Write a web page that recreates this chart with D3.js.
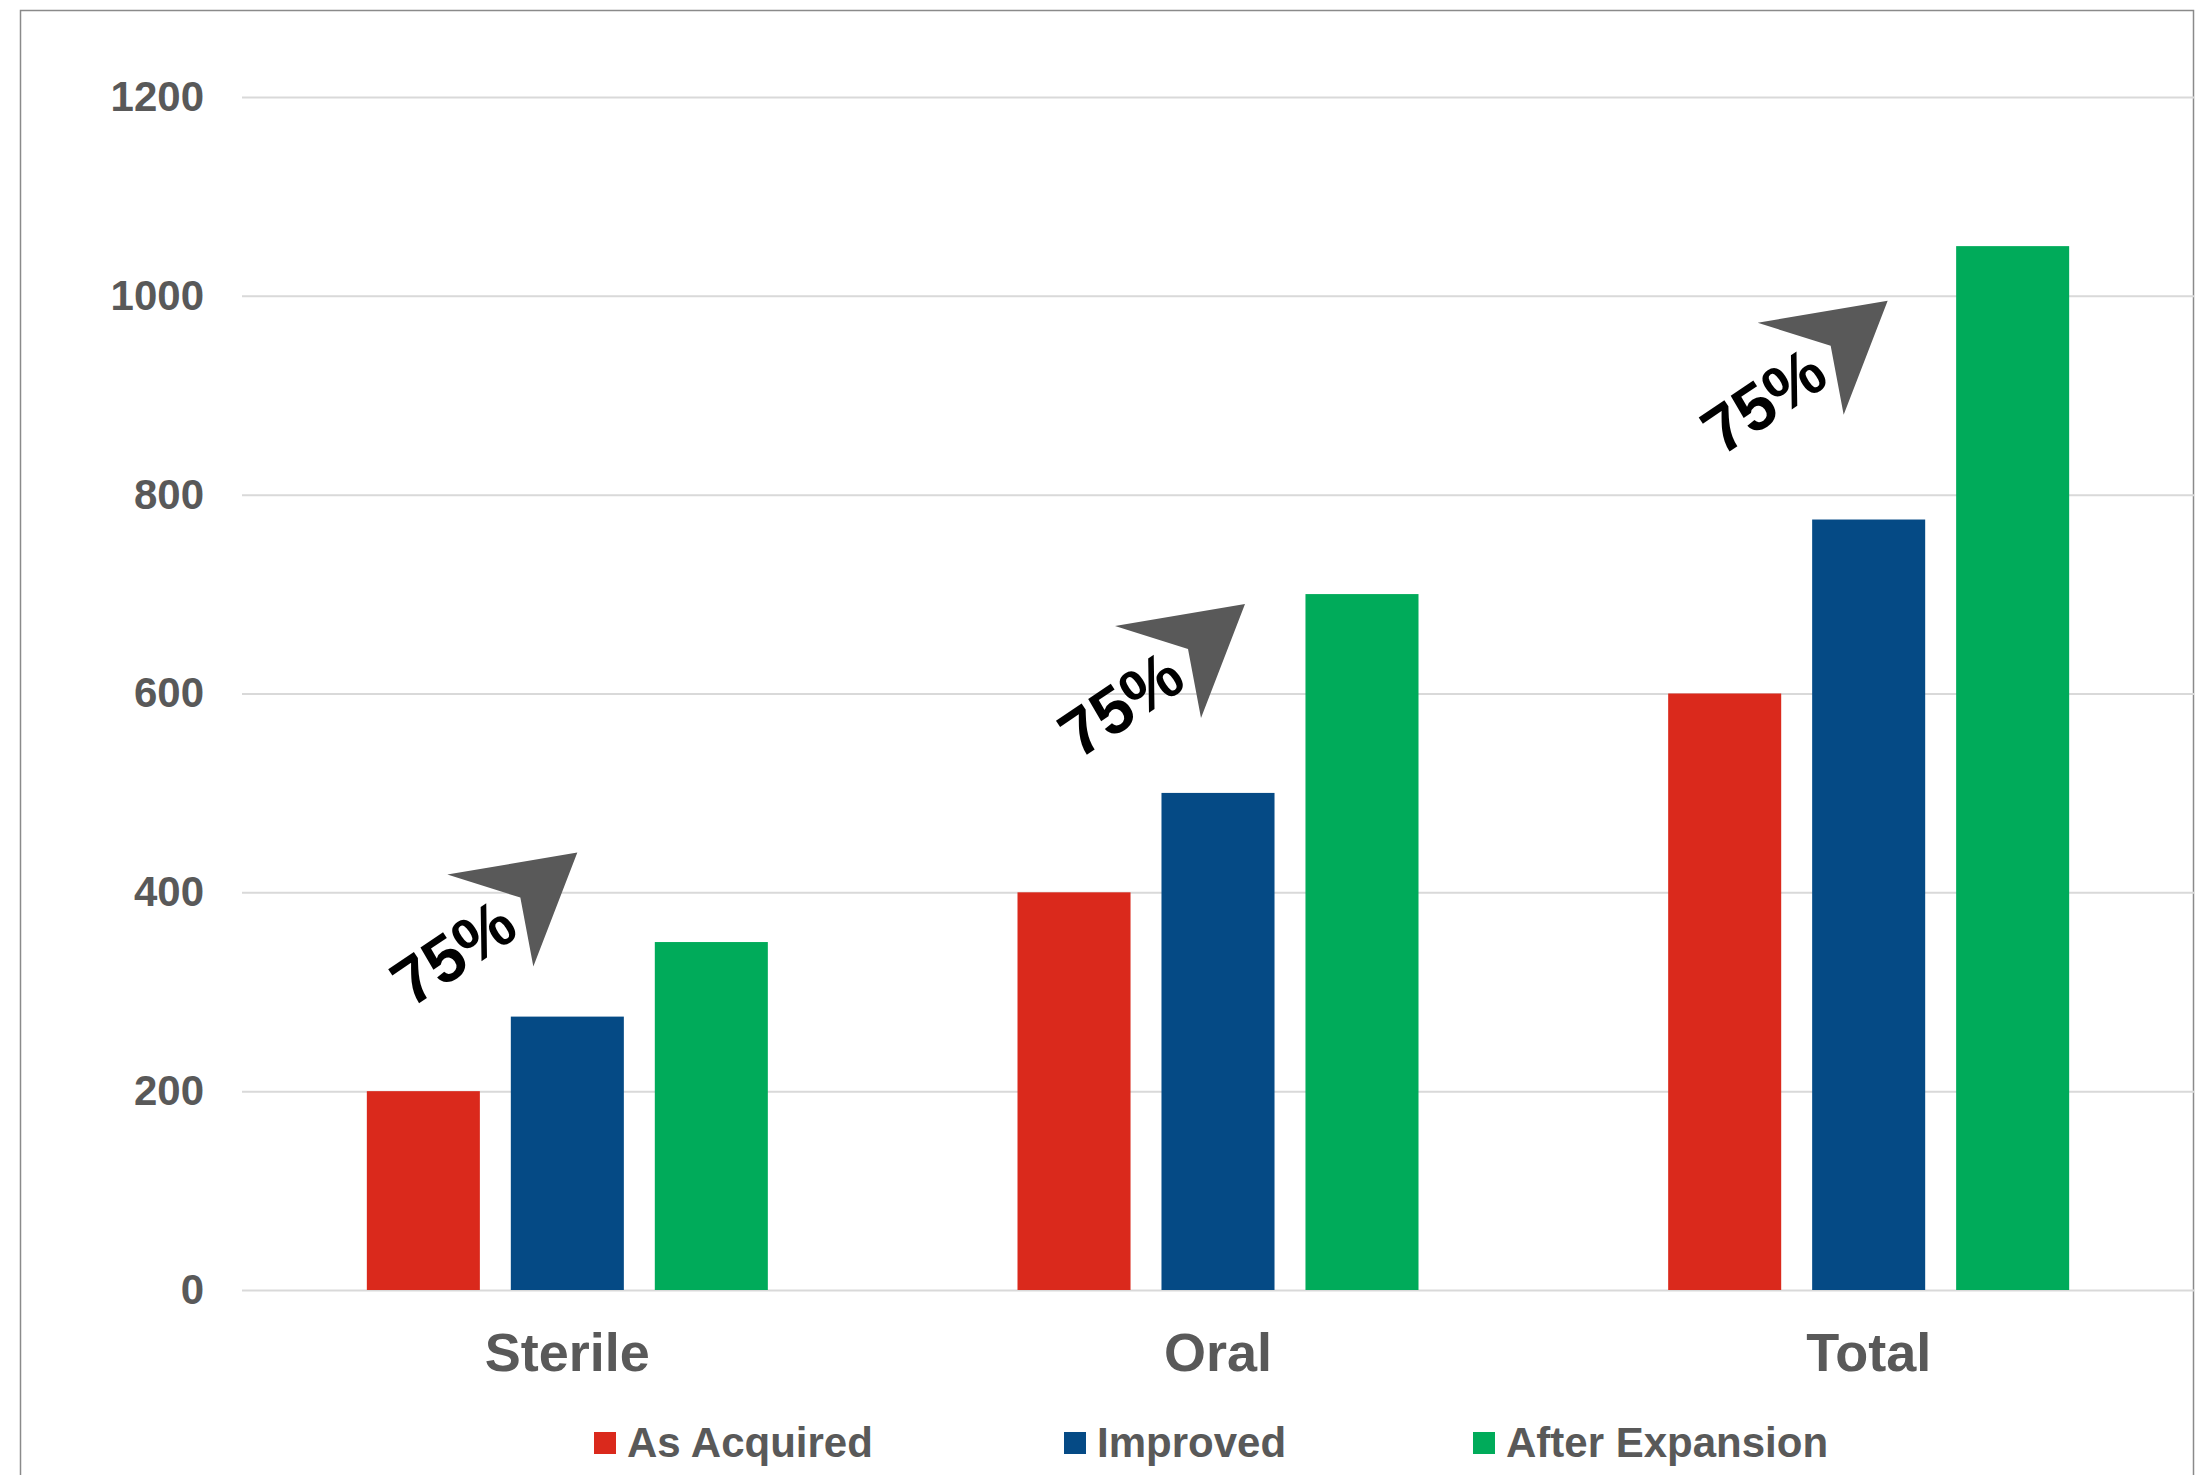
<!DOCTYPE html>
<html>
<head>
<meta charset="utf-8">
<script src="https://cdn.jsdelivr.net/npm/d3@7"></script>
<style>
  body { margin: 0; background: #fff; }
  svg { display: block; font-family: "Liberation Sans", Arial, sans-serif; }
</style>
</head>
<body>
<div id="chart"></div>
<script>
// data
const categories = ["Sterile", "Oral", "Total"];
const seriesNames = ["As Acquired", "Improved", "After Expansion"];
const asAcquired = [200, 400, 600];
const improved = [275, 500, 775];
const afterExpansion = [350, 700, 1050];
const yTicks = [0, 200, 400, 600, 800, 1000, 1200];
// growth call-outs: label, arrow tip value, tip shift from the middle bar
const growthLabels = ["75%", "75%", "75%"];
const growthTipValues = [440, 690, 995];
const growthTipShift = [10, 27, 19];

const colors = ["#da291c", "#054a85", "#00ab5a"];

const width = 2204;
const height = 1475;
const plotLeft = 242, plotRight = 2194, plotTop = 97, plotBottom = 1290;

const svg = d3.select("#chart")
  .append("svg")
  .attr("width", width)
  .attr("height", height);

// outer frame
svg.append("rect")
  .attr("x", 20.5).attr("y", 10.5)
  .attr("width", 2173).attr("height", 1500)
  .attr("fill", "none")
  .attr("stroke", "#8a8a8a")
  .attr("stroke-width", 1.5);

const x0 = d3.scaleBand()
  .domain(categories)
  .range([plotLeft, plotRight]);

const x1 = d3.scaleBand()
  .domain(seriesNames)
  .range([0, x0.bandwidth()])
  .paddingInner(0.215)
  .paddingOuter(0.867);

const y = d3.scaleLinear()
  .domain([0, 1200])
  .range([plotBottom, plotTop]);

// y axis + grid
const yAxis = svg.append("g")
  .attr("transform", `translate(${plotLeft},0)`)
  .call(d3.axisLeft(y)
    .tickValues(yTicks)
    .tickFormat(d3.format("d"))
    .tickSize(-(plotRight - plotLeft))
    .tickPadding(38));
yAxis.select(".domain").remove();
yAxis.selectAll(".tick line").attr("stroke", "#d9d9d9").attr("stroke-width", 2);
yAxis.selectAll(".tick text")
  .attr("fill", "#595959")
  .style("font-size", "42px")
  .style("font-weight", "bold");

// bars
const rows = categories.map((c, i) => ({
  cat: c,
  vals: [asAcquired[i], improved[i], afterExpansion[i]]
}));

const groups = svg.selectAll("g.grp")
  .data(rows)
  .enter()
  .append("g")
  .attr("class", "grp")
  .attr("transform", d => `translate(${x0(d.cat)},0)`);

groups.selectAll("rect")
  .data(d => d.vals.map((v, j) => ({ name: seriesNames[j], v, j })))
  .enter()
  .append("rect")
  .attr("x", d => x1(d.name))
  .attr("y", d => y(d.v))
  .attr("width", x1.bandwidth())
  .attr("height", d => y(0) - y(d.v))
  .attr("fill", d => colors[d.j]);

// category axis
const xAxis = svg.append("g")
  .attr("transform", `translate(0,${plotBottom})`)
  .call(d3.axisBottom(x0).tickSize(0).tickPadding(43));
xAxis.select(".domain").remove();
xAxis.selectAll(".tick text")
  .attr("fill", "#595959")
  .style("font-size", "54px")
  .style("font-weight", "bold");

// growth arrows
const notes = svg.selectAll("g.note")
  .data(categories)
  .enter()
  .append("g")
  .attr("class", "note")
  .attr("transform", (c, i) => {
    const tx = x0(c) + x1(seriesNames[1]) + x1.bandwidth() / 2 + growthTipShift[i];
    return `translate(${tx},${y(growthTipValues[i])})`;
  });

notes.append("path")
  .attr("d", "M0,0 L-130,22 L-57,45 L-44,114 Z")
  .attr("fill", "#595959");

notes.append("text")
  .attr("transform", "translate(-166,156) rotate(-34)")
  .attr("fill", "#000")
  .style("font-size", "66px")
  .style("font-weight", "bold")
  .text((c, i) => growthLabels[i]);

// legend
const legendX = [594, 1064, 1473];
const legend = svg.selectAll("g.leg")
  .data(seriesNames)
  .enter()
  .append("g")
  .attr("class", "leg")
  .attr("transform", (d, i) => `translate(${legendX[i]},1432)`);

legend.append("rect")
  .attr("width", 22).attr("height", 22)
  .attr("fill", (d, i) => colors[i]);

legend.append("text")
  .attr("x", 33).attr("y", 25)
  .attr("fill", "#595959")
  .style("font-size", "42px")
  .style("font-weight", "bold")
  .text(d => d);
</script>
</body>
</html>
